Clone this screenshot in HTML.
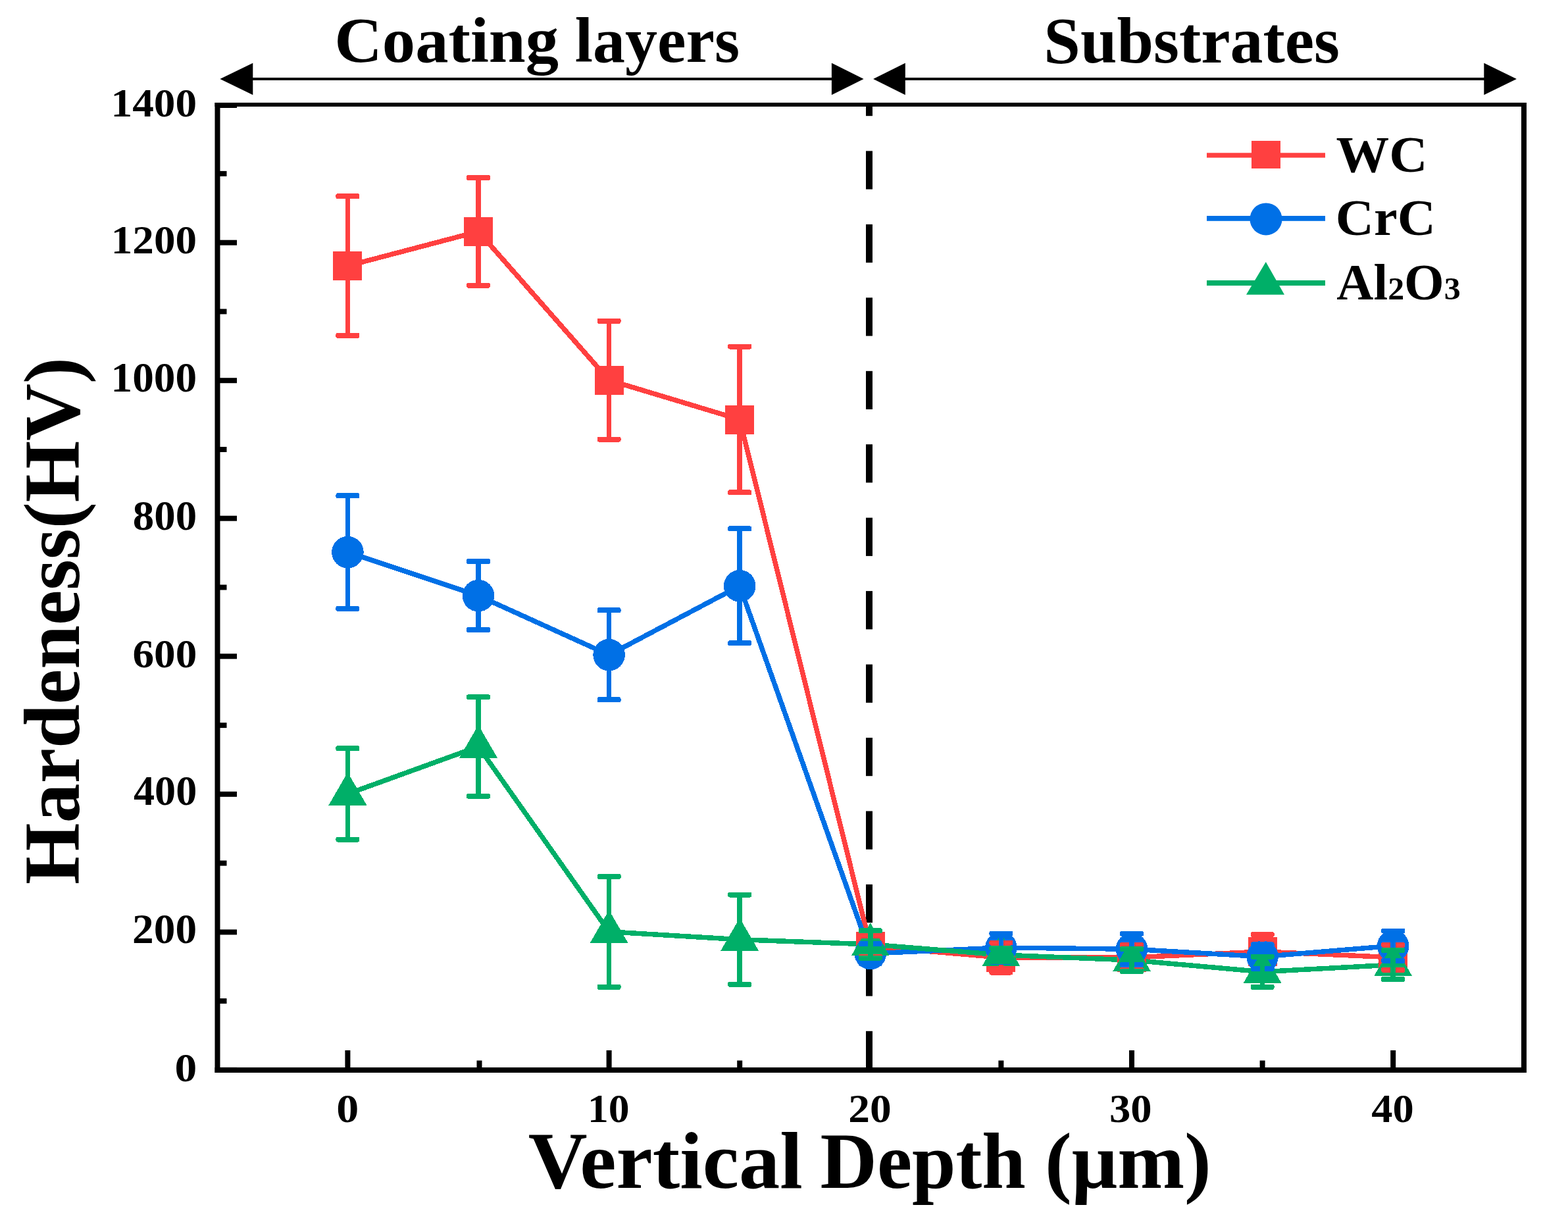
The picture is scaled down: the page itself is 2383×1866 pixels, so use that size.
<!DOCTYPE html>
<html><head><meta charset="utf-8"><title>Hardeness vs Vertical Depth</title><style>html,body{margin:0;padding:0;background:#fff;overflow:hidden}svg{display:block}</style></head><body>
<svg width="2383" height="1866" viewBox="0 0 2383 1866">
<rect x="0" y="0" width="2383" height="1866" fill="#fff"/>
<g fill="#000">
<rect x="380" y="118" width="888" height="4"/>
<rect x="1372" y="118" width="888" height="4"/>
<polygon points="334.4,120 384.3,95.8 384.3,144.2"/>
<polygon points="1312.6,120 1263.9,95.8 1263.9,144.2"/>
<polygon points="1327.1,120 1375.8,95.8 1375.8,144.2"/>
<polygon points="2304.9,120 2255.3,95.8 2255.3,144.2"/>
</g>
<text transform="matrix(1.0054,0,0,0.9760,508.27,94.43)" font-size="100" font-family="'Liberation Serif', 'Times New Roman', serif" font-weight="bold">Coating</text>
<text transform="matrix(0.9793,0,0,0.9760,873.84,94.43)" font-size="100" font-family="'Liberation Serif', 'Times New Roman', serif" font-weight="bold">layers</text>
<text transform="matrix(0.9990,0,0,0.9880,1586.36,95.07)" font-size="100" font-family="'Liberation Serif', 'Times New Roman', serif" font-weight="bold">Substrates</text>
<g fill="#000"><rect x="1316" y="159.0" width="10" height="17.2"/><rect x="1316" y="229.4" width="10" height="58.2"/><rect x="1316" y="340.9" width="10" height="58.2"/><rect x="1316" y="452.3" width="10" height="58.2"/><rect x="1316" y="563.8" width="10" height="58.2"/><rect x="1316" y="675.2" width="10" height="58.2"/><rect x="1316" y="786.7" width="10" height="58.2"/><rect x="1316" y="898.1" width="10" height="58.2"/><rect x="1316" y="1009.6" width="10" height="58.2"/><rect x="1316" y="1121.0" width="10" height="58.2"/><rect x="1316" y="1232.5" width="10" height="58.2"/><rect x="1316" y="1343.9" width="10" height="58.2"/><rect x="1316" y="1455.4" width="10" height="58.2"/><rect x="1316" y="1566.8" width="10" height="58.2"/></g>
<g fill="#000">
<rect x="326.5" y="156" width="8" height="1474"/>
<rect x="2312" y="156" width="8" height="1474"/>
<rect x="326.5" y="156" width="1993.5" height="6"/>
<rect x="326.5" y="1622" width="1993.5" height="8"/>
<rect x="334" y="1621.9" width="26" height="8"/>
<rect x="334" y="1517.1" width="10.5" height="8"/>
<rect x="334" y="1412.4" width="26" height="8"/>
<rect x="334" y="1307.6" width="10.5" height="8"/>
<rect x="334" y="1202.8" width="26" height="8"/>
<rect x="334" y="1098.1" width="10.5" height="8"/>
<rect x="334" y="993.3" width="26" height="8"/>
<rect x="334" y="888.5" width="10.5" height="8"/>
<rect x="334" y="783.7" width="26" height="8"/>
<rect x="334" y="679.0" width="10.5" height="8"/>
<rect x="334" y="574.2" width="26" height="8"/>
<rect x="334" y="469.4" width="10.5" height="8"/>
<rect x="334" y="364.7" width="26" height="8"/>
<rect x="334" y="259.9" width="10.5" height="8"/>
<rect x="334" y="156.0" width="26" height="8"/>
<rect x="524.4" y="1596.0" width="8" height="26"/>
<rect x="724.5" y="1611.5" width="8" height="10.5"/>
<rect x="921.6" y="1596.0" width="8" height="26"/>
<rect x="1120.2" y="1611.5" width="8" height="10.5"/>
<rect x="1316" y="1596.0" width="10" height="26"/>
<rect x="1517.4" y="1611.5" width="8" height="10.5"/>
<rect x="1716.0" y="1596.0" width="8" height="26"/>
<rect x="1914.6" y="1611.5" width="8" height="10.5"/>
<rect x="2113.2" y="1596.0" width="8" height="26"/>
</g>
<text transform="matrix(0.6753,0,0,0.6193,265.47,1642.88)" font-size="100" font-family="'Liberation Serif', 'Times New Roman', serif" font-weight="bold">0</text>
<text transform="matrix(0.6535,0,0,0.6252,201.12,1432.97)" font-size="100" font-family="'Liberation Serif', 'Times New Roman', serif" font-weight="bold">200</text>
<text transform="matrix(0.6421,0,0,0.6296,203.00,1223.07)" font-size="100" font-family="'Liberation Serif', 'Times New Roman', serif" font-weight="bold">400</text>
<text transform="matrix(0.6522,0,0,0.6163,201.52,1014.08)" font-size="100" font-family="'Liberation Serif', 'Times New Roman', serif" font-weight="bold">600</text>
<text transform="matrix(0.6490,0,0,0.6237,201.79,805.18)" font-size="100" font-family="'Liberation Serif', 'Times New Roman', serif" font-weight="bold">800</text>
<text transform="matrix(0.6534,0,0,0.6296,168.47,595.27)" font-size="100" font-family="'Liberation Serif', 'Times New Roman', serif" font-weight="bold">1000</text>
<text transform="matrix(0.6518,0,0,0.6163,168.79,384.98)" font-size="100" font-family="'Liberation Serif', 'Times New Roman', serif" font-weight="bold">1200</text>
<text transform="matrix(0.6534,0,0,0.6178,168.47,177.18)" font-size="100" font-family="'Liberation Serif', 'Times New Roman', serif" font-weight="bold">1400</text>
<text transform="matrix(0.6800,0,0,0.6163,511.35,1704.88)" font-size="100" font-family="'Liberation Serif', 'Times New Roman', serif" font-weight="bold">0</text>
<text transform="matrix(0.6368,0,0,0.6193,892.91,1705.18)" font-size="100" font-family="'Liberation Serif', 'Times New Roman', serif" font-weight="bold">10</text>
<text transform="matrix(0.6543,0,0,0.6193,1289.22,1705.18)" font-size="100" font-family="'Liberation Serif', 'Times New Roman', serif" font-weight="bold">20</text>
<text transform="matrix(0.6465,0,0,0.6163,1685.88,1704.98)" font-size="100" font-family="'Liberation Serif', 'Times New Roman', serif" font-weight="bold">30</text>
<text transform="matrix(0.6453,0,0,0.6163,2084.19,1704.88)" font-size="100" font-family="'Liberation Serif', 'Times New Roman', serif" font-weight="bold">40</text>
<g shape-rendering="crispEdges">
<path d="M528.4,404.0 L727.0,351.8 L925.6,577.7 L1124.2,637.5 L1322.8,1438.0 L1521.4,1455.0 L1720.0,1455.0 L1918.6,1446.0 L2117.2,1454.8" fill="none" stroke="#FF4040" stroke-width="7.5" stroke-linejoin="miter"/>
<path d="M528.4,839.1 L727.0,905.2 L925.6,995.2 L1124.2,890.3 L1322.8,1449.0 L1521.4,1440.0 L1720.0,1442.2 L1918.6,1453.7 L2117.2,1437.2" fill="none" stroke="#0070E6" stroke-width="7.5" stroke-linejoin="miter"/>
<path d="M528.4,1206.4 L727.0,1134.5 L925.6,1415.8 L1124.2,1427.7 L1322.8,1435.0 L1521.4,1451.0 L1720.0,1459.0 L1918.6,1476.7 L2117.2,1466.0" fill="none" stroke="#00AF68" stroke-width="7.5" stroke-linejoin="miter"/>
<g fill="#FF4040"><rect x="506.4" y="382.0" width="44" height="44"/><rect x="705.0" y="329.8" width="44" height="44"/><rect x="903.6" y="555.7" width="44" height="44"/><rect x="1102.2" y="615.5" width="44" height="44"/><rect x="1300.8" y="1416.0" width="44" height="44"/><rect x="1499.4" y="1433.0" width="44" height="44"/><rect x="1698.0" y="1433.0" width="44" height="44"/><rect x="1896.6" y="1424.0" width="44" height="44"/><rect x="2095.2" y="1432.8" width="44" height="44"/></g>
<g fill="#0070E6"><circle cx="528.4" cy="839.1" r="24.3"/><circle cx="727.0" cy="905.2" r="24.3"/><circle cx="925.6" cy="995.2" r="24.3"/><circle cx="1124.2" cy="890.3" r="24.3"/><circle cx="1322.8" cy="1449.0" r="24.3"/><circle cx="1521.4" cy="1440.0" r="24.3"/><circle cx="1720.0" cy="1442.2" r="24.3"/><circle cx="1918.6" cy="1453.7" r="24.3"/><circle cx="2117.2" cy="1437.2" r="24.3"/></g>
<g fill="#00AF68"><polygon points="528.4,1173.6 557.4,1223.6 499.4,1223.6"/><polygon points="727.0,1101.7 756.0,1151.7 698.0,1151.7"/><polygon points="925.6,1383.0 954.6,1433.0 896.6,1433.0"/><polygon points="1124.2,1394.9 1153.2,1444.9 1095.2,1444.9"/><polygon points="1322.8,1402.2 1351.8,1452.2 1293.8,1452.2"/><polygon points="1521.4,1418.2 1550.4,1468.2 1492.4,1468.2"/><polygon points="1720.0,1426.2 1749.0,1476.2 1691.0,1476.2"/><polygon points="1918.6,1443.9 1947.6,1493.9 1889.6,1493.9"/><polygon points="2117.2,1433.2 2146.2,1483.2 2088.2,1483.2"/></g>
<g fill="#FF4040"><rect x="524.6" y="298.2" width="7.5" height="211.6"/><rect x="510.4" y="294.2" width="36" height="8" rx="3"/><rect x="510.4" y="505.8" width="36" height="8" rx="3"/><rect x="723.2" y="270.0" width="7.5" height="163.6"/><rect x="709.0" y="266.0" width="36" height="8" rx="3"/><rect x="709.0" y="429.6" width="36" height="8" rx="3"/><rect x="921.8" y="487.8" width="7.5" height="179.8"/><rect x="907.6" y="483.8" width="36" height="8" rx="3"/><rect x="907.6" y="663.6" width="36" height="8" rx="3"/><rect x="1120.4" y="526.6" width="7.5" height="221.8"/><rect x="1106.2" y="522.6" width="36" height="8" rx="3"/><rect x="1106.2" y="744.4" width="36" height="8" rx="3"/><rect x="1319.0" y="1422.2" width="7.5" height="31.6"/><rect x="1304.8" y="1418.2" width="36" height="8" rx="3"/><rect x="1304.8" y="1449.8" width="36" height="8" rx="3"/><rect x="1517.7" y="1432.5" width="7.5" height="45.0"/><rect x="1503.4" y="1428.5" width="36" height="8" rx="3"/><rect x="1503.4" y="1473.5" width="36" height="8" rx="3"/><rect x="1716.2" y="1436.0" width="7.5" height="38.0"/><rect x="1702.0" y="1432.0" width="36" height="8" rx="3"/><rect x="1702.0" y="1470.0" width="36" height="8" rx="3"/><rect x="1914.8" y="1420.0" width="7.5" height="52.0"/><rect x="1900.6" y="1416.0" width="36" height="8" rx="3"/><rect x="1900.6" y="1468.0" width="36" height="8" rx="3"/><rect x="2113.4" y="1435.8" width="7.5" height="38.0"/><rect x="2099.2" y="1431.8" width="36" height="8" rx="3"/><rect x="2099.2" y="1469.8" width="36" height="8" rx="3"/></g>
<g fill="#0070E6"><rect x="524.6" y="753.3" width="7.5" height="171.6"/><rect x="510.4" y="749.3" width="36" height="8" rx="3"/><rect x="510.4" y="920.9" width="36" height="8" rx="3"/><rect x="723.2" y="853.2" width="7.5" height="104.0"/><rect x="709.0" y="849.2" width="36" height="8" rx="3"/><rect x="709.0" y="953.2" width="36" height="8" rx="3"/><rect x="921.8" y="927.2" width="7.5" height="136.0"/><rect x="907.6" y="923.2" width="36" height="8" rx="3"/><rect x="907.6" y="1059.2" width="36" height="8" rx="3"/><rect x="1120.4" y="803.4" width="7.5" height="173.8"/><rect x="1106.2" y="799.4" width="36" height="8" rx="3"/><rect x="1106.2" y="973.2" width="36" height="8" rx="3"/><rect x="1319.0" y="1434.0" width="7.5" height="30.0"/><rect x="1304.8" y="1430.0" width="36" height="8" rx="3"/><rect x="1304.8" y="1460.0" width="36" height="8" rx="3"/><rect x="1517.7" y="1418.5" width="7.5" height="43.0"/><rect x="1503.4" y="1414.5" width="36" height="8" rx="3"/><rect x="1503.4" y="1457.5" width="36" height="8" rx="3"/><rect x="1716.2" y="1418.7" width="7.5" height="47.0"/><rect x="1702.0" y="1414.7" width="36" height="8" rx="3"/><rect x="1702.0" y="1461.7" width="36" height="8" rx="3"/><rect x="1914.8" y="1435.4" width="7.5" height="36.6"/><rect x="1900.6" y="1431.4" width="36" height="8" rx="3"/><rect x="1900.6" y="1468.0" width="36" height="8" rx="3"/><rect x="2113.4" y="1414.5" width="7.5" height="45.4"/><rect x="2099.2" y="1410.5" width="36" height="8" rx="3"/><rect x="2099.2" y="1455.9" width="36" height="8" rx="3"/></g>
<g fill="#00AF68"><rect x="524.6" y="1137.2" width="7.5" height="138.4"/><rect x="510.4" y="1133.2" width="36" height="8" rx="3"/><rect x="510.4" y="1271.6" width="36" height="8" rx="3"/><rect x="723.2" y="1059.3" width="7.5" height="150.4"/><rect x="709.0" y="1055.3" width="36" height="8" rx="3"/><rect x="709.0" y="1205.7" width="36" height="8" rx="3"/><rect x="921.8" y="1331.9" width="7.5" height="167.8"/><rect x="907.6" y="1327.9" width="36" height="8" rx="3"/><rect x="907.6" y="1495.7" width="36" height="8" rx="3"/><rect x="1120.4" y="1359.6" width="7.5" height="136.2"/><rect x="1106.2" y="1355.6" width="36" height="8" rx="3"/><rect x="1106.2" y="1491.8" width="36" height="8" rx="3"/><rect x="1319.0" y="1414.4" width="7.5" height="41.2"/><rect x="1304.8" y="1410.4" width="36" height="8" rx="3"/><rect x="1304.8" y="1451.6" width="36" height="8" rx="3"/><rect x="1517.7" y="1441.0" width="7.5" height="20.0"/><rect x="1503.4" y="1437.0" width="36" height="8" rx="3"/><rect x="1503.4" y="1457.0" width="36" height="8" rx="3"/><rect x="1716.2" y="1442.0" width="7.5" height="34.0"/><rect x="1702.0" y="1438.0" width="36" height="8" rx="3"/><rect x="1702.0" y="1472.0" width="36" height="8" rx="3"/><rect x="1914.8" y="1453.6" width="7.5" height="46.2"/><rect x="1900.6" y="1449.6" width="36" height="8" rx="3"/><rect x="1900.6" y="1495.8" width="36" height="8" rx="3"/><rect x="2113.4" y="1444.0" width="7.5" height="44.0"/><rect x="2099.2" y="1440.0" width="36" height="8" rx="3"/><rect x="2099.2" y="1484.0" width="36" height="8" rx="3"/></g>
</g>
<rect x="1834" y="232.3" width="180" height="7.3" fill="#FF4040"/>
<rect x="1902" y="214" width="44" height="42" fill="#FF4040"/>
<rect x="1834" y="328" width="180" height="7.8" fill="#0070E6"/>
<circle cx="1924" cy="332.9" r="24.5" fill="#0070E6"/>
<rect x="1834" y="426" width="180" height="8" fill="#00AF68"/>
<polygon points="1923.8,397.9 1952,447.8 1894,447.8" fill="#00AF68"/>
<text transform="matrix(0.8074,0,0,0.7740,2030.59,260.94)" font-size="100" font-family="'Liberation Serif', 'Times New Roman', serif" font-weight="bold">WC</text>
<text transform="matrix(0.8051,0,0,0.7740,2029.77,357.13)" font-size="100" font-family="'Liberation Serif', 'Times New Roman', serif" font-weight="bold">CrC</text>
<text transform="matrix(0.7795,0,0,0.7740,2031.22,455.03)" font-size="100" font-family="'Liberation Serif', 'Times New Roman', serif" font-weight="bold">Al<tspan font-size="64">2</tspan>O<tspan font-size="64">3</tspan></text>
<text transform="matrix(1.2445,0,0,1.2172,802.86,1805.30)" font-size="100" font-family="'Liberation Serif', 'Times New Roman', serif" font-weight="bold">Vertical</text>
<text transform="matrix(1.1961,0,0,1.2172,1246.51,1805.30)" font-size="100" font-family="'Liberation Serif', 'Times New Roman', serif" font-weight="bold">Depth</text>
<text transform="matrix(1.2233,0,0,1.2172,1588.10,1805.30)" font-size="100" font-family="'Liberation Serif', 'Times New Roman', serif" font-weight="bold">(μm)</text>
<text transform="translate(120.30,1343.90) rotate(-90) scale(1.2017,1.2141)" font-size="100" font-family="'Liberation Serif', 'Times New Roman', serif" font-weight="bold">Hardeness(HV)</text>
</svg></body></html>
